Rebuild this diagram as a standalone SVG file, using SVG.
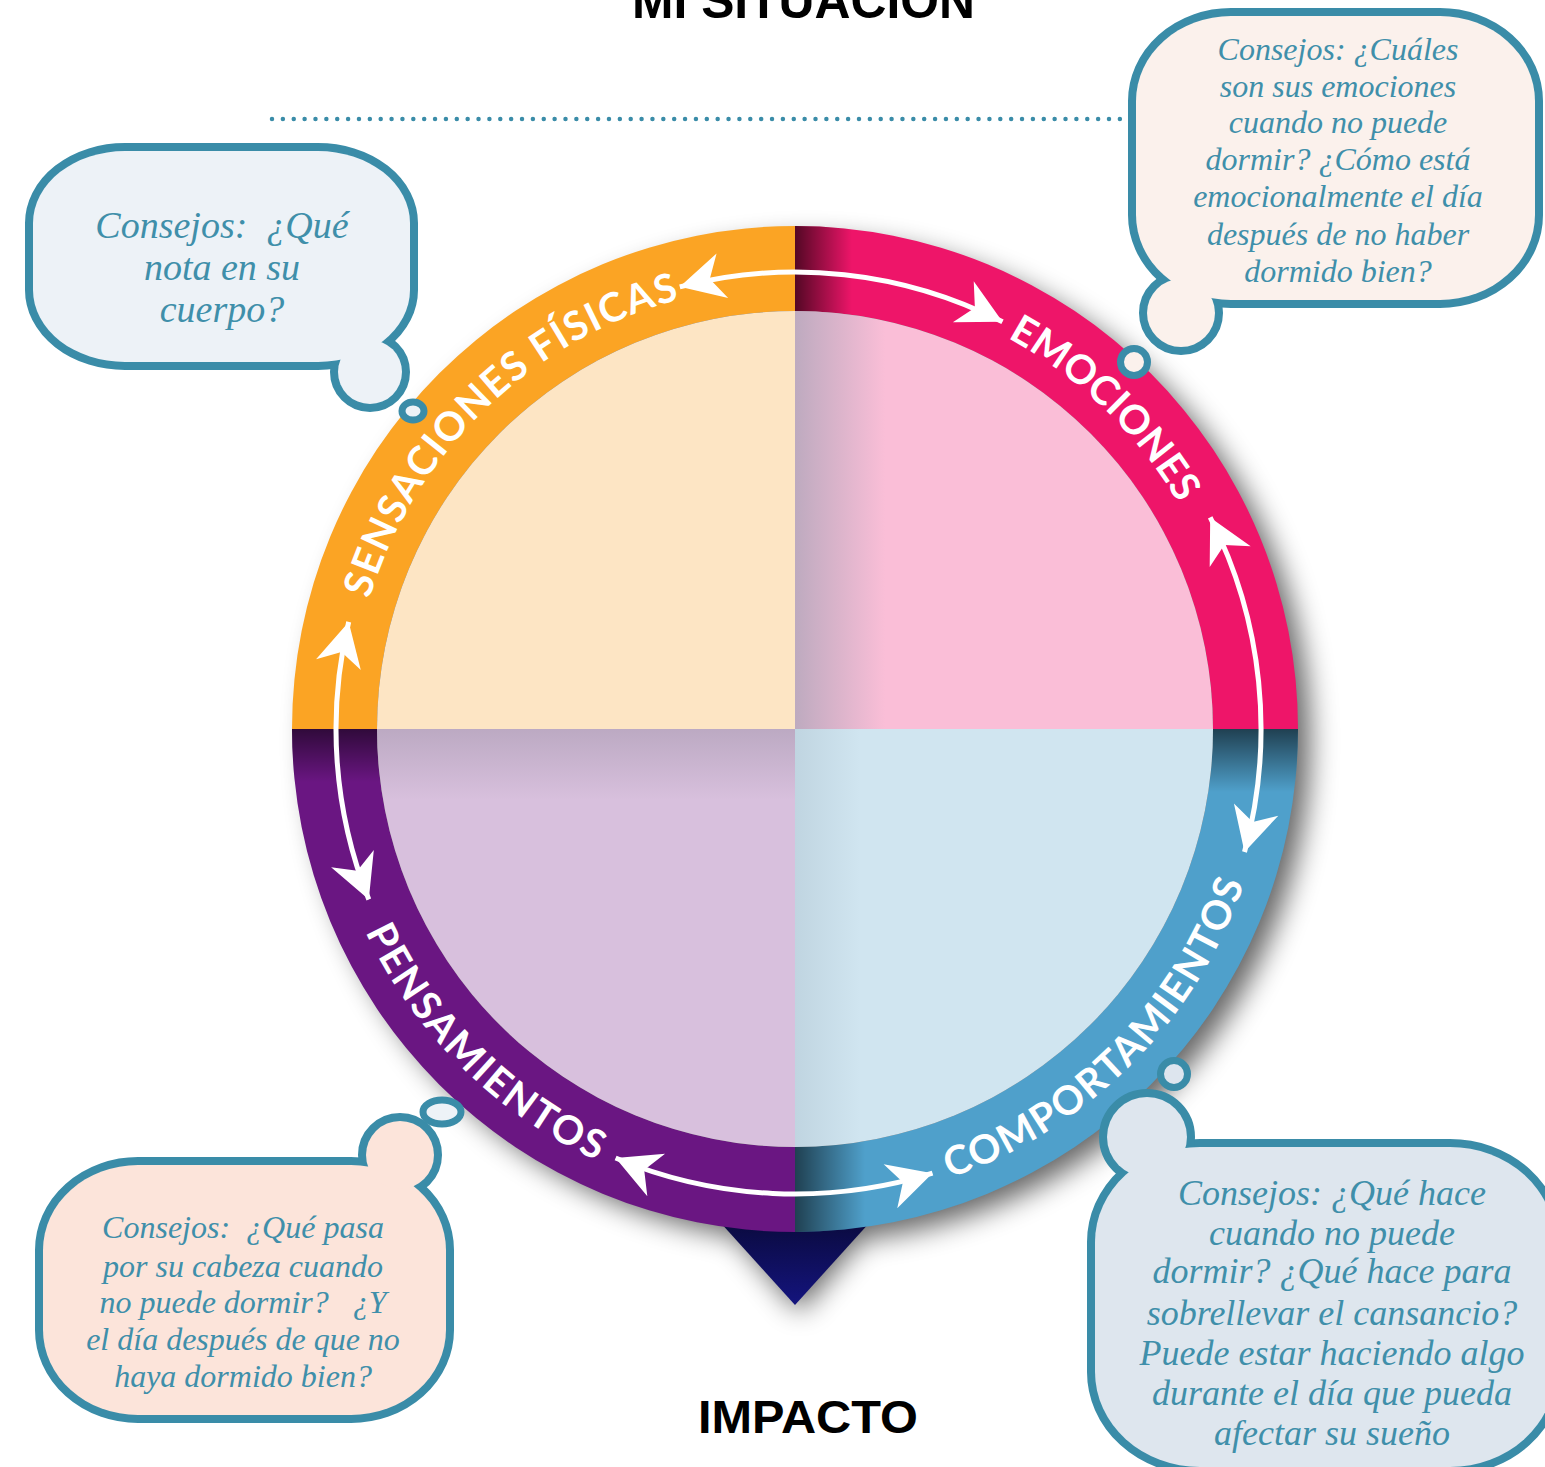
<svg xmlns="http://www.w3.org/2000/svg" width="1545" height="1467" viewBox="0 0 1545 1467">
<style>
.lbl{font-family:Lato,"Open Sans","DejaVu Sans",sans-serif;font-weight:700;font-size:40px;fill:#fff}
.tip{font-family:"Liberation Serif","DejaVu Serif",serif;font-style:italic;fill:#3F8FAA;text-anchor:middle}
.title{font-family:"Liberation Sans",Arial,sans-serif;font-weight:700;fill:#000}
.bo{stroke:#3A8CA8;stroke-width:16}
.rg{stroke:#3A8CA8;stroke-width:7}
.conn{fill:none;stroke:#fff;stroke-width:5;marker-start:url(#ah);marker-end:url(#ah)}
</style>
<defs>
<marker id="ah" markerUnits="userSpaceOnUse" viewBox="-46 -25 50 50" markerWidth="50" markerHeight="50" refX="0" refY="0" orient="auto-start-reverse" overflow="visible">
<path d="M0,0 L-44,-23 L-31,0 L-44,23 Z" fill="#fff"/>
</marker>
<filter id="blur" x="-20%" y="-20%" width="140%" height="140%"><feGaussianBlur stdDeviation="14"/></filter>
<linearGradient id="triG" gradientUnits="userSpaceOnUse" x1="0" y1="1200" x2="0" y2="1305"><stop offset="0" stop-color="#08082E"/><stop offset="1" stop-color="#14147E"/></linearGradient>
<linearGradient id="gPR" gradientUnits="userSpaceOnUse" x1="795" y1="0" x2="852" y2="0"><stop offset="0" stop-color="#000" stop-opacity="0.65"/><stop offset="1" stop-color="#000" stop-opacity="0"/></linearGradient>
<linearGradient id="gBRv" gradientUnits="userSpaceOnUse" x1="0" y1="729" x2="0" y2="792"><stop offset="0" stop-color="#000" stop-opacity="0.6"/><stop offset="1" stop-color="#000" stop-opacity="0"/></linearGradient>
<linearGradient id="gBRh" gradientUnits="userSpaceOnUse" x1="795" y1="0" x2="865" y2="0"><stop offset="0" stop-color="#000" stop-opacity="0.6"/><stop offset="1" stop-color="#000" stop-opacity="0"/></linearGradient>
<linearGradient id="gPLv" gradientUnits="userSpaceOnUse" x1="0" y1="729" x2="0" y2="782"><stop offset="0" stop-color="#000" stop-opacity="0.55"/><stop offset="1" stop-color="#000" stop-opacity="0"/></linearGradient>
<linearGradient id="gTRi" gradientUnits="userSpaceOnUse" x1="795" y1="0" x2="885" y2="0"><stop offset="0" stop-color="#8C9AAC" stop-opacity="0.55"/><stop offset="1" stop-color="#8C9AAC" stop-opacity="0"/></linearGradient>
<linearGradient id="gBRi" gradientUnits="userSpaceOnUse" x1="795" y1="0" x2="860" y2="0"><stop offset="0" stop-color="#7F93A3" stop-opacity="0.2"/><stop offset="1" stop-color="#7F93A3" stop-opacity="0"/></linearGradient>
<linearGradient id="gBLi" gradientUnits="userSpaceOnUse" x1="0" y1="729" x2="0" y2="800"><stop offset="0" stop-color="#7A7585" stop-opacity="0.3"/><stop offset="1" stop-color="#7A7585" stop-opacity="0"/></linearGradient>
<path id="pS" d="M369.4,598.9 A445,445 0 0 1 679.8,299.2"/>
<path id="pE" d="M1007.4,337.9 A445,445 0 0 1 1178.4,503.2"/>
<path id="pC" d="M949.7,1178.1 A475,475 0 0 0 1244.1,883.7"/>
<path id="pP" d="M365.5,932 A475,475 0 0 0 597.3,1160.9"/>
</defs>

<rect width="1545" height="1467" fill="#fff"/>

<text class="title" x="632" y="18" font-size="50" textLength="343" lengthAdjust="spacingAndGlyphs">MI SITUACIÓN</text>
<line x1="272" y1="119" x2="1124" y2="119" stroke="#3A8CA8" stroke-width="4.5" stroke-linecap="round" stroke-dasharray="0 10.87"/>

<g id="shadow" filter="url(#blur)" opacity="0.6">
<circle cx="810" cy="741" r="500" fill="#000"/>
<polygon points="705,1200 895,1200 800,1312" fill="#000"/>
</g>

<g id="impact-pointer">
<polygon points="700,1200 890,1200 795,1305" fill="url(#triG)"/>
</g>

<g id="wheel">
<g id="sensaciones">
<path d="M292,729 A503,503 0 0 1 795,226 L795,311 A418,418 0 0 0 377,729 Z" fill="#FBA424"/>
<path d="M795,729 L377,729 A418,418 0 0 1 795,311 Z" fill="#FDE5C4"/>
</g>
<g id="emociones">
<path d="M795,226 A503,503 0 0 1 1298,729 L1213,729 A418,418 0 0 0 795,311 Z" fill="#EE1569"/>
<path d="M795,226 A503,503 0 0 1 1298,729 L1213,729 A418,418 0 0 0 795,311 Z" fill="url(#gPR)"/>
<path d="M795,729 L795,311 A418,418 0 0 1 1213,729 Z" fill="#FABED7"/>
<path d="M795,729 L795,311 A418,418 0 0 1 1213,729 Z" fill="url(#gTRi)"/>
</g>
<g id="comportamientos">
<path d="M1298,729 A503,503 0 0 1 795,1232 L795,1147 A418,418 0 0 0 1213,729 Z" fill="#4FA0CB"/>
<path d="M1298,729 A503,503 0 0 1 795,1232 L795,1147 A418,418 0 0 0 1213,729 Z" fill="url(#gBRv)"/>
<path d="M1298,729 A503,503 0 0 1 795,1232 L795,1147 A418,418 0 0 0 1213,729 Z" fill="url(#gBRh)"/>
<path d="M795,729 L1213,729 A418,418 0 0 1 795,1147 Z" fill="#D0E5F0"/>
<path d="M795,729 L1213,729 A418,418 0 0 1 795,1147 Z" fill="url(#gBRi)"/>
</g>
<g id="pensamientos">
<path d="M795,1232 A503,503 0 0 1 292,729 L377,729 A418,418 0 0 0 795,1147 Z" fill="#6A1682"/>
<path d="M795,1232 A503,503 0 0 1 292,729 L377,729 A418,418 0 0 0 795,1147 Z" fill="url(#gPLv)"/>
<path d="M795,729 L795,1147 A418,418 0 0 1 377,729 Z" fill="#D8C0DD"/>
<path d="M795,729 L795,1147 A418,418 0 0 1 377,729 Z" fill="url(#gBLi)"/>
</g>
</g>

<g id="labels">
<text class="lbl"><textPath href="#pS" textLength="450" lengthAdjust="spacing">SENSACIONES FÍSICAS</textPath></text>
<text class="lbl"><textPath href="#pE" textLength="241" lengthAdjust="spacing">EMOCIONES</textPath></text>
<text class="lbl"><textPath href="#pC" textLength="431" lengthAdjust="spacing">COMPORTAMIENTOS</textPath></text>
<text class="lbl"><textPath href="#pP" textLength="332" lengthAdjust="spacing">PENSAMIENTOS</textPath></text>
</g>

<g id="connectors">
<path class="conn" d="M679.8,286.8 A457,457 0 0 1 1002.5,321.8"/>
<path class="conn" d="M1210.2,517.4 A466,466 0 0 1 1244.5,852"/>
<path class="conn" d="M932.5,1173.2 A465,465 0 0 1 615.6,1158"/>
<path class="conn" d="M368.8,899.5 A459,459 0 0 1 348.7,621.9"/>
</g>

<g id="tip-sensaciones">
<rect class="bo" x="33" y="151" width="377" height="211" rx="92" ry="72" fill="#EDF2F7"/>
<circle class="bo" cx="370" cy="372" r="32" fill="#EDF2F7"/>
<rect x="33" y="151" width="377" height="211" rx="92" ry="72" fill="#EDF2F7"/>
<circle cx="370" cy="372" r="32" fill="#EDF2F7"/>
<ellipse class="rg" cx="413" cy="411" rx="11" ry="9" fill="#EDF2F7"/>
<text class="tip" font-size="38"><tspan x="222" y="238">Consejos:&#160; ¿Qué</tspan><tspan x="222" y="280">nota en su</tspan><tspan x="222" y="322">cuerpo?</tspan></text>
</g>

<g id="tip-emociones">
<rect class="bo" x="1136" y="16" width="399" height="284" rx="95" ry="85" fill="#FBF1EC"/>
<circle class="bo" cx="1181" cy="313" r="34" fill="#FBF1EC"/>
<rect x="1136" y="16" width="399" height="284" rx="95" ry="85" fill="#FBF1EC"/>
<circle cx="1181" cy="313" r="34" fill="#FBF1EC"/>
<circle class="rg" cx="1134" cy="362" r="13.5" fill="#FBF1EC"/>
<text class="tip" font-size="32"><tspan x="1338" y="60">Consejos: ¿Cuáles</tspan><tspan x="1338" y="97">son sus emociones</tspan><tspan x="1338" y="133">cuando no puede</tspan><tspan x="1338" y="170">dormir? ¿Cómo está</tspan><tspan x="1338" y="207">emocionalmente el día</tspan><tspan x="1338" y="245">después de no haber</tspan><tspan x="1338" y="282">dormido bien?</tspan></text>
</g>

<g id="tip-pensamientos">
<rect class="bo" x="43" y="1165" width="403" height="250" rx="95" ry="85" fill="#FCE4DA"/>
<circle class="bo" cx="400" cy="1155" r="34" fill="#FCE4DA"/>
<rect x="43" y="1165" width="403" height="250" rx="95" ry="85" fill="#FCE4DA"/>
<circle cx="400" cy="1155" r="34" fill="#FCE4DA"/>
<ellipse class="rg" cx="442" cy="1112" rx="19" ry="12" fill="#EDF2F7"/>
<text class="tip" font-size="32"><tspan x="243" y="1238">Consejos:&#160; ¿Qué pasa</tspan><tspan x="243" y="1277">por su cabeza cuando</tspan><tspan x="243" y="1313">no puede dormir?&#160;&#160; ¿Y</tspan><tspan x="243" y="1350">el día después de que no</tspan><tspan x="243" y="1387">haya dormido bien?</tspan></text>
</g>

<g id="tip-comportamientos">
<rect class="bo" x="1095" y="1147" width="460" height="320" rx="105" ry="95" fill="#DEE6EE"/>
<circle class="bo" cx="1147" cy="1137" r="40" fill="#DEE6EE"/>
<rect x="1095" y="1147" width="460" height="320" rx="105" ry="95" fill="#DEE6EE"/>
<circle cx="1147" cy="1137" r="40" fill="#DEE6EE"/>
<circle class="rg" cx="1174" cy="1074" r="13.5" fill="#DDE5EE"/>
<text class="tip" font-size="36"><tspan x="1332" y="1205">Consejos: ¿Qué hace</tspan><tspan x="1332" y="1245">cuando no puede</tspan><tspan x="1332" y="1283">dormir? ¿Qué hace para</tspan><tspan x="1332" y="1325">sobrellevar el cansancio?</tspan><tspan x="1332" y="1365">Puede estar haciendo algo</tspan><tspan x="1332" y="1405">durante el día que pueda</tspan><tspan x="1332" y="1445">afectar su sueño</tspan></text>
</g>

<text class="title" x="698" y="1433" font-size="46" textLength="220" lengthAdjust="spacingAndGlyphs">IMPACTO</text>
</svg>
